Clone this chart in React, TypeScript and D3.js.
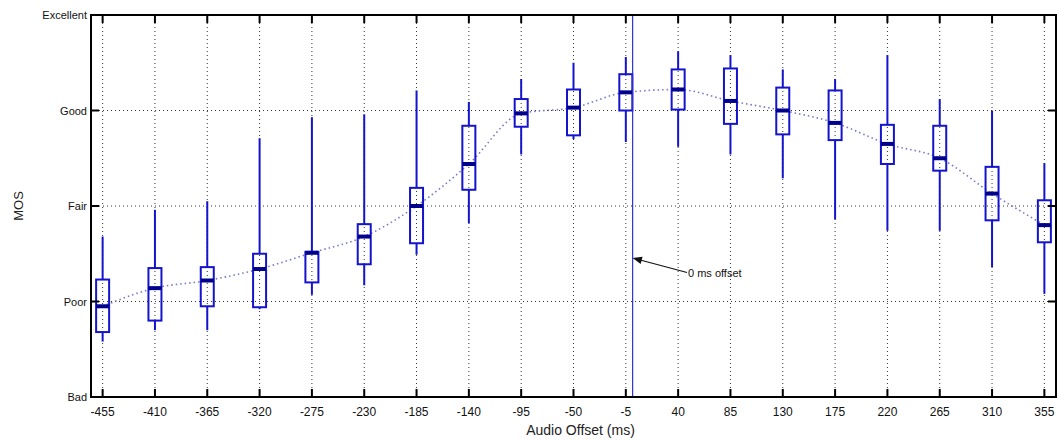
import React from "react";
import * as d3 from "d3";

const offsets = [-455, -410, -365, -320, -275, -230, -185, -140, -95, -50, -5, 40, 85, 130, 175, 220, 265, 310, 355];
const whiskerHigh = [2.68, 2.96, 3.05, 3.71, 3.93, 3.96, 4.21, 4.09, 4.33, 4.5, 4.56, 4.62, 4.58, 4.43, 4.33, 4.58, 4.12, 4.0, 3.45];
const q3 = [2.23, 2.35, 2.36, 2.5, 2.52, 2.81, 3.19, 3.84, 4.12, 4.22, 4.38, 4.43, 4.44, 4.24, 4.21, 3.85, 3.84, 3.41, 3.06];
const medians = [1.95, 2.14, 2.22, 2.34, 2.51, 2.68, 3.0, 3.44, 3.97, 4.03, 4.19, 4.22, 4.1, 4.0, 3.87, 3.65, 3.5, 3.13, 2.8];
const q1 = [1.68, 1.8, 1.95, 1.94, 2.2, 2.39, 2.61, 3.17, 3.83, 3.74, 4.0, 4.01, 3.86, 3.75, 3.69, 3.44, 3.37, 2.85, 2.62];
const whiskerLow = [1.58, 1.7, 1.7, 1.92, 2.07, 2.17, 2.49, 2.82, 3.54, 3.7, 3.67, 3.62, 3.54, 3.29, 2.86, 2.74, 2.74, 2.36, 2.08];
const mosLabels = ["Bad", "Poor", "Fair", "Good", "Excellent"];
const mosValues = [1, 2, 3, 4, 5];
const markerOffset = 0;
const markerLabel = "0 ms offset";

const W = 1057;
const H = 440;
const L = 91;
const R = 1056;
const T = 15;
const B = 397;

export default function App() {
  const x = d3.scaleLinear().domain([-465, 365]).range([L, R]);
  const y = d3.scaleLinear().domain([1, 5]).range([B, T]);
  const boxW = 13;
  const blue = "#1414cc";
  const font = "'Liberation Sans', Arial, Helvetica, sans-serif";
  const line = d3
    .line<number>()
    .x((_, i) => x(offsets[i]))
    .y((d) => y(d))
    .curve(d3.curveMonotoneX);
  const mx = x(markerOffset);
  const tipY = 258;
  const tailX = 687;
  const tailY = 272.5;
  const ang = Math.atan2(tipY - tailY, mx + 1 - tailX);
  const ah = 10;
  const aw = 0.38;
  const tip: [number, number] = [mx + 1, tipY];
  const p1: [number, number] = [tip[0] - ah * Math.cos(ang - aw), tip[1] - ah * Math.sin(ang - aw)];
  const p2: [number, number] = [tip[0] - ah * Math.cos(ang + aw), tip[1] - ah * Math.sin(ang + aw)];

  return (
    <svg
      width={W}
      height={H}
      style={{ position: "absolute", left: 0, top: 0, background: "#fff" }}
      fontFamily={font}
    >
      <rect x={0} y={0} width={W} height={H} fill="#fff" />
      {/* grid */}
      {offsets.map((o) => (
        <line key={"gx" + o} x1={x(o)} x2={x(o)} y1={T} y2={B} stroke="#333" strokeWidth={1} strokeDasharray="1,3" />
      ))}
      {mosValues.slice(1, 4).map((v) => (
        <line key={"gy" + v} x1={L} x2={R} y1={y(v)} y2={y(v)} stroke="#333" strokeWidth={1} strokeDasharray="1,3" />
      ))}
      {/* median trend */}
      <path d={line(medians) || ""} fill="none" stroke="#7878c8" strokeWidth={1.6} strokeDasharray="1.5,3" />
      {/* boxes */}
      {offsets.map((o, i) => {
        const cx = x(o);
        return (
          <g key={"b" + o}>
            <line x1={cx} x2={cx} y1={y(whiskerHigh[i])} y2={y(q3[i])} stroke={blue} strokeWidth={2} />
            <line x1={cx} x2={cx} y1={y(q1[i])} y2={y(whiskerLow[i])} stroke={blue} strokeWidth={2} />
            <rect
              x={cx - boxW / 2}
              y={y(q3[i])}
              width={boxW}
              height={y(q1[i]) - y(q3[i])}
              fill="none"
              stroke={blue}
              strokeWidth={2}
            />
            <line x1={cx - boxW / 2} x2={cx + boxW / 2} y1={y(medians[i])} y2={y(medians[i])} stroke="#00008c" strokeWidth={4} />
          </g>
        );
      })}
      {/* marker line */}
      <line x1={mx + 1} x2={mx + 1} y1={T} y2={B} stroke="#3030d0" strokeWidth={1.2} />
      <line x1={tailX} y1={tailY} x2={tip[0] + 3 * Math.cos(ang) * -1} y2={tip[1] - 3 * Math.sin(ang)} stroke="#111" strokeWidth={1.2} />
      <path d={`M${tip[0]},${tip[1]}L${p1[0]},${p1[1]}L${p2[0]},${p2[1]}Z`} fill="#111" />
      <text x={tailX + 1} y={277} fontSize={11} fill="#111">
        {markerLabel}
      </text>
      {/* frame */}
      <rect x={L} y={T} width={R - L} height={B - T} fill="none" stroke="#000" strokeWidth={2} />
      {/* ticks */}
      {offsets.map((o) => (
        <g key={"t" + o}>
          <line x1={x(o)} x2={x(o)} y1={B} y2={B - 8} stroke="#000" strokeWidth={2} />
          <line x1={x(o)} x2={x(o)} y1={T} y2={T + 8} stroke="#000" strokeWidth={2} />
          <text x={x(o)} y={416} textAnchor="middle" fontSize={12} fill="#111">
            {o}
          </text>
        </g>
      ))}
      {mosValues.map((v, i) => (
        <g key={"ty" + v}>
          <line x1={L} x2={L + 8} y1={y(v)} y2={y(v)} stroke="#000" strokeWidth={2} />
          <line x1={R} x2={R - 8} y1={y(v)} y2={y(v)} stroke="#000" strokeWidth={2} />
          <text x={87} y={y(v) + 4} textAnchor="end" fontSize={11} fill="#111">
            {mosLabels[i]}
          </text>
        </g>
      ))}
      <text x={(L + R) / 2 + 7} y={435} textAnchor="middle" fontSize={14} fill="#222">
        Audio Offset (ms)
      </text>
      <text transform={`translate(23,${(T + B) / 2}) rotate(-90)`} textAnchor="middle" fontSize={13} fill="#222">
        MOS
      </text>
    </svg>
  );
}
